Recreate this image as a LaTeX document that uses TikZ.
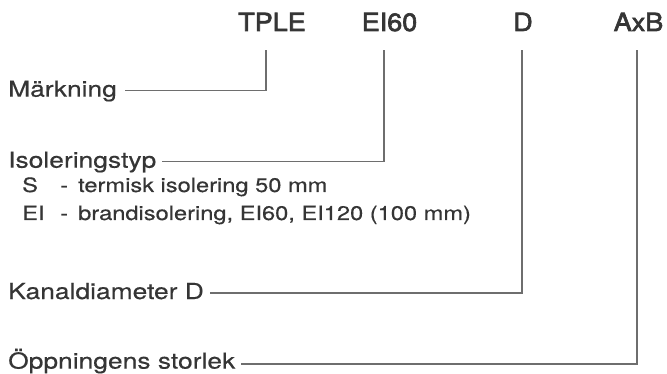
\documentclass[tikz,border=0pt]{standalone}
\usepackage{fontspec}
\setmainfont[FakeStretch=1.2,FakeBold=0.4]{TeX Gyre Heros}
\newfontfamily\codefont[FakeBold=2.6,FakeStretch=1.08]{TeX Gyre Heros}
\usepackage{xcolor}

\definecolor{txtgray}{HTML}{353535}
\definecolor{linegray}{HTML}{6E6E6E}

\begin{document}
\begin{tikzpicture}[x=1pt, y=-1pt,
  code/.style={inner sep=0, anchor=base, text=txtgray, font=\codefont\fontsize{25}{28}\selectfont},
  label/.style={inner sep=0, anchor=base west, text=txtgray, font=\fontsize{22}{26}\selectfont},
  sub/.style={inner sep=0, anchor=base west, text=txtgray, font=\fontsize{19.7}{23}\selectfont},
  lead/.style={draw=linegray, line width=1.4pt}]
  % keep the page as large as the picture
  \useasboundingbox (0,0) rectangle (667,374);

  % the product code
  \node[code] (tple) at (272,31) {TPLE};
  \node[code] (ei)   at (389.5,31) {EI60};
  \node[code] (dia)  at (523,31) {D};
  \node[code] (axb)  at (638.5,31) {AxB};

  % top ends of the leader lines
  \coordinate (tpleTop) at (266,50);
  \coordinate (eiTop)   at (384,50);
  \coordinate (diaTop)  at (522,50);
  \coordinate (axbTop)  at (637,50);

  % the labels
  \node[label] (mark) at (8,96.7)  {Märkning};
  \node[label] (iso)  at (8,167.7) {Isoleringstyp};
  \node[label] (kan)  at (8,299)   {Kanaldiameter D};
  \node[label] (opp)  at (8,368.6) {Öppningens storlek};

  % insulation types
  \node[sub] (sCode)  at (22,192) {S};
  \node[sub] (sDash)  at (60,192) {-};
  \node[sub] (sText)  at (78,192) {termisk isolering 50 mm};
  \node[sub] (eiCode) at (22,220) {EI};
  \node[sub] (eiDash) at (60,220) {-};
  \node[sub] (eiText) at (78,220) {brandisolering, EI60, EI120 (100 mm)};

  % leader lines
  \draw[lead] ([xshift=8pt,yshift=6pt]mark.base east) -| (tpleTop);
  \draw[lead] ([xshift=6pt,yshift=6pt]iso.base east)  -| (eiTop);
  \draw[lead] ([xshift=6pt,yshift=6pt]kan.base east)  -| (diaTop);
  \draw[lead] ([xshift=6pt,yshift=4.5pt]opp.base east)  -| (axbTop);
\end{tikzpicture}
\end{document}
